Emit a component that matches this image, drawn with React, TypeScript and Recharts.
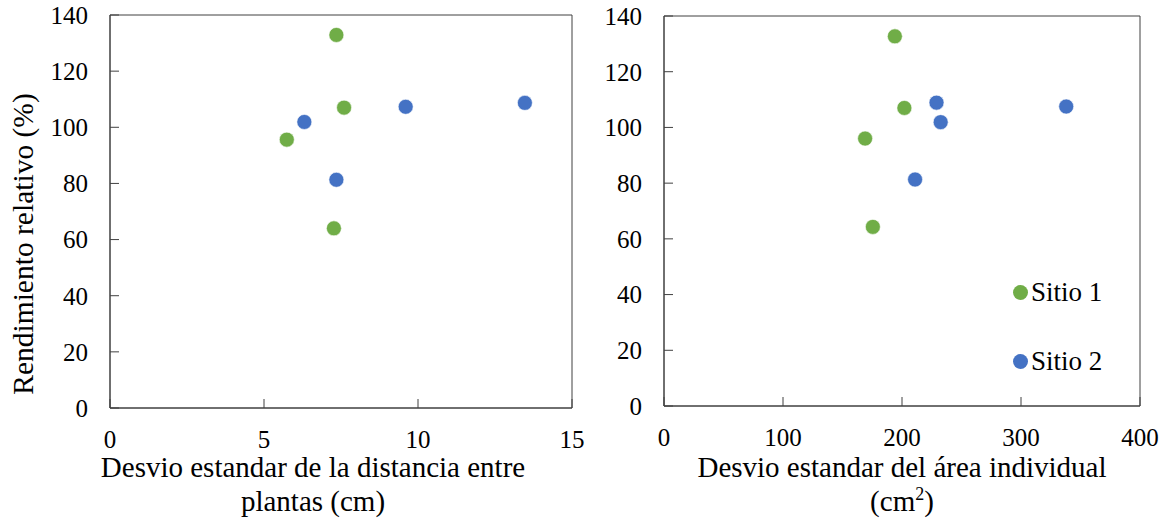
import React from "react";
import { ReferenceArea, Scatter, ScatterChart, XAxis, YAxis } from "recharts";

// Rendimiento relativo (%) vs desvío estándar de la distancia entre plantas (cm)
const distSitio1 = [
  { x: 7.35, y: 132.9 },
  { x: 7.6, y: 107.0 },
  { x: 5.74, y: 95.6 },
  { x: 7.27, y: 64.0 },
];
const distSitio2 = [
  { x: 6.31, y: 101.9 },
  { x: 7.35, y: 81.3 },
  { x: 9.6, y: 107.3 },
  { x: 13.47, y: 108.7 },
];

// Rendimiento relativo (%) vs desvío estándar del área individual (cm2)
const areaSitio1 = [
  { x: 194, y: 132.7 },
  { x: 202, y: 107.0 },
  { x: 169, y: 96.0 },
  { x: 175.5, y: 64.3 },
];
const areaSitio2 = [
  { x: 229, y: 108.9 },
  { x: 232.5, y: 101.9 },
  { x: 211, y: 81.3 },
  { x: 338, y: 107.5 },
];

const yTicks = [0, 20, 40, 60, 80, 100, 120, 140];
const distTicks = [0, 5, 10, 15];
const areaTicks = [0, 100, 200, 300, 400];
const seriesNames = ["Sitio 1", "Sitio 2"];

const GREEN = "#70AD47";
const BLUE = "#4472C4";
const AXIS = "#404040";
const FONT = "'Liberation Serif', 'Times New Roman', Times, serif";

const tickStyle = { fill: "#000", fontSize: 25, style: { fontFamily: FONT } };
const textStyle = { fontFamily: FONT };

const dot = (color: string) => (props: any) =>
  (
    <circle
      cx={props.cx}
      cy={props.cy}
      r={7.5}
      fill={color}
      stroke="#fff"
      strokeWidth={0.6}
    />
  );

const SiteLegend = () => (
  <div style={{ fontFamily: FONT, fontSize: 27, color: "#000" }}>
    {seriesNames.map((name, i) => (
      <div
        key={name}
        style={{
          display: "flex",
          alignItems: "center",
          height: 30,
          marginBottom: i === 0 ? 39 : 0,
        }}
      >
        <span
          style={{
            width: 15,
            height: 15,
            borderRadius: "50%",
            background: i === 0 ? GREEN : BLUE,
            marginRight: 3,
          }}
        />
        <span>{name}</span>
      </div>
    ))}
  </div>
);

export default function App() {
  return (
    <div
      style={{
        position: "absolute",
        left: 0,
        top: 0,
        width: 1173,
        height: 521,
        background: "#fff",
        fontFamily: FONT,
      }}
    >
      <div style={{ position: "absolute", left: 0, top: 0 }}>
        <ScatterChart
          width={590}
          height={521}
          margin={{ top: 15, right: 18, bottom: 83, left: 50 }}
          style={textStyle}
        >
          <XAxis
            type="number"
            dataKey="x"
            domain={[0, 15]}
            ticks={distTicks}
            tick={tickStyle}
            tickSize={-9}
            tickMargin={31}
            stroke={AXIS}
            height={30}
            label={{
              content: () => (
                <text
                  textAnchor="middle"
                  style={textStyle}
                  fontSize={29}
                  fill="#000"
                >
                  <tspan x={313} y={477}>
                    Desvio estandar de la distancia entre
                  </tspan>
                  <tspan x={313} y={511}>
                    plantas (cm)
                  </tspan>
                </text>
              ),
            }}
          />
          <YAxis
            type="number"
            dataKey="y"
            domain={[0, 140]}
            ticks={yTicks}
            tick={tickStyle}
            tickSize={-9}
            tickMargin={31}
            stroke={AXIS}
            width={60}
            label={{
              content: () => (
                <text
                  x={23}
                  y={244}
                  transform="rotate(-90 23 244)"
                  textAnchor="middle"
                  dominantBaseline="central"
                  style={textStyle}
                  fontSize={29.5}
                  fill="#000"
                >
                  Rendimiento relativo (%)
                </text>
              ),
            }}
          />
          <ReferenceArea
            x1={0}
            x2={15}
            y1={0}
            y2={140}
            fill="none"
            stroke={AXIS}
            strokeWidth={1}
            fillOpacity={0}
          />
          <Scatter
            name={seriesNames[0]}
            data={distSitio1}
            shape={dot(GREEN)}
            isAnimationActive={false}
          />
          <Scatter
            name={seriesNames[1]}
            data={distSitio2}
            shape={dot(BLUE)}
            isAnimationActive={false}
          />
        </ScatterChart>
      </div>

      <div style={{ position: "absolute", left: 590, top: 0 }}>
        <ScatterChart
          width={583}
          height={521}
          margin={{ top: 16, right: 33, bottom: 85, left: 14 }}
          style={textStyle}
        >
          <XAxis
            type="number"
            dataKey="x"
            domain={[0, 400]}
            ticks={areaTicks}
            tick={tickStyle}
            tickSize={-9}
            tickMargin={31}
            stroke={AXIS}
            height={30}
            label={{
              content: () => (
                <text
                  textAnchor="middle"
                  style={textStyle}
                  fontSize={29}
                  fill="#000"
                >
                  <tspan x={312} y={477}>
                    Desvio estandar del área individual
                  </tspan>
                  <tspan x={312} y={511}>
                    (cm
                    <tspan fontSize={18} dy={-11}>
                      2
                    </tspan>
                    <tspan dy={11}>)</tspan>
                  </tspan>
                </text>
              ),
            }}
          />
          <YAxis
            type="number"
            dataKey="y"
            domain={[0, 140]}
            ticks={yTicks}
            tick={tickStyle}
            tickSize={-9}
            tickMargin={31}
            stroke={AXIS}
            width={60}
          />
          <ReferenceArea
            x1={0}
            x2={400}
            y1={0}
            y2={140}
            fill="none"
            stroke={AXIS}
            strokeWidth={1}
            fillOpacity={0}
          />
          <Scatter
            name={seriesNames[0]}
            data={areaSitio1}
            shape={dot(GREEN)}
            isAnimationActive={false}
          />
          <Scatter
            name={seriesNames[1]}
            data={areaSitio2}
            shape={dot(BLUE)}
            isAnimationActive={false}
          />
        </ScatterChart>
      </div>

      <div style={{ position: "absolute", left: 1013, top: 277 }}>
        <SiteLegend />
      </div>
    </div>
  );
}
